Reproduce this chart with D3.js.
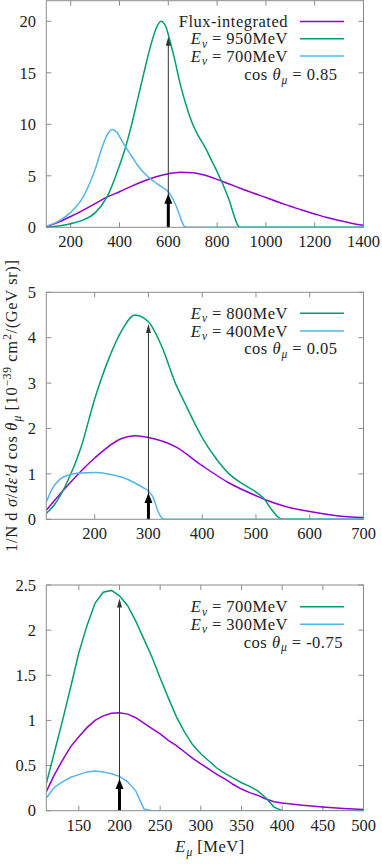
<!DOCTYPE html>
<html>
<head>
<meta charset="utf-8">
<script src="https://cdn.jsdelivr.net/npm/d3@7"></script>
<style>
  body { margin: 0; background: #fff; }
  text { font-family: "Liberation Serif", "DejaVu Serif", serif; fill: #222; }
</style>
</head>
<body>
<svg id="chart" width="382" height="864"></svg>
<script>
// panel 1: cos theta = 0.85
var topFlux = [[100,0.05],[150,0.5],[200,1.05],[250,1.65],[300,2.3],[350,2.95],[400,3.45],[450,4.0],[500,4.5],[550,4.9],[600,5.2],[650,5.35],[700,5.3],[750,5.05],[800,4.65],[850,4.2],[900,3.75],[950,3.3],[1000,2.9],[1050,2.45],[1100,2.05],[1150,1.65],[1200,1.3],[1250,0.95],[1300,0.65],[1350,0.4],[1400,0.2]];
var topHigh = [[100,0],[150,0.12],[200,0.35],[250,0.7],[300,1.4],[350,3.0],[400,6.0],[425,7.8],[450,10.0],[475,12.5],[500,15.0],[525,17.4],[550,19.3],[570,20.0],[590,19.5],[600,18.7],[625,16.4],[650,13.8],[675,11.7],[700,10.0],[725,8.8],[750,7.8],[775,6.6],[800,5.4],[825,4.1],[850,2.6],[870,1.1],[885,0.2],[895,0],[1400,0]];
var topLow = [[100,0.1],[150,0.6],[200,1.45],[250,2.9],[280,4.4],[300,5.6],[325,7.5],[350,9.0],[370,9.5],[390,9.2],[410,8.4],[425,7.8],[450,6.9],[475,6.0],[500,5.3],[525,4.75],[550,4.3],[575,3.9],[600,3.45],[620,2.7],[640,1.6],[655,0.6],[668,0.05],[680,0],[1400,0]];

// panel 2: cos theta = 0.05
var midFlux = [[110,0.2],[150,0.75],[200,1.35],[250,1.78],[275,1.84],[300,1.8],[350,1.6],[400,1.18],[450,0.8],[500,0.52],[520,0.42],[550,0.3],[600,0.17],[650,0.08],[700,0.04]];
var midHigh = [[110,0.13],[125,0.32],[150,0.85],[175,1.6],[200,2.65],[225,3.5],[250,4.15],[275,4.5],[300,4.35],[325,3.8],[350,3.0],[366,2.6],[400,1.8],[425,1.35],[450,1.0],[475,0.78],[500,0.6],[515,0.45],[530,0.2],[545,0.02],[560,0],[700,0]];
var midLow = [[110,0.38],[120,0.65],[135,0.88],[150,0.97],[175,1.02],[200,1.03],[225,1.0],[250,0.93],[275,0.8],[290,0.7],[300,0.62],[310,0.45],[317,0.2],[325,0.03],[330,0],[700,0]];

// panel 3: cos theta = -0.75
var botFlux = [[110,0.21],[120,0.4],[130,0.56],[140,0.71],[150,0.82],[160,0.92],[170,1.0],[180,1.05],[190,1.08],[200,1.085],[210,1.07],[220,1.03],[230,0.97],[240,0.91],[250,0.85],[260,0.78],[270,0.72],[280,0.65],[290,0.58],[300,0.52],[310,0.46],[320,0.4],[330,0.35],[340,0.29],[350,0.24],[360,0.2],[370,0.17],[380,0.13],[390,0.1],[400,0.085],[425,0.06],[450,0.04],[475,0.025],[500,0.012]];
var botHigh = [[110,0.3],[120,0.65],[130,1.0],[140,1.37],[150,1.75],[160,2.05],[170,2.3],[180,2.42],[190,2.44],[200,2.38],[210,2.27],[220,2.1],[230,1.9],[240,1.7],[250,1.47],[260,1.25],[270,1.04],[280,0.87],[290,0.73],[300,0.63],[310,0.55],[320,0.47],[330,0.41],[340,0.36],[350,0.31],[360,0.27],[370,0.22],[380,0.14],[390,0.04],[400,0],[500,0]];
var botLow = [[110,0.14],[120,0.26],[130,0.32],[140,0.37],[150,0.4],[160,0.43],[170,0.44],[180,0.43],[190,0.41],[200,0.38],[210,0.32],[220,0.22],[230,0.02],[240,0],[500,0]];

var xDomains = [[100,1400],[110,700],[110,500]];
var yDomains = [[0,22],[0,5],[0,2.5]];
var xTicks = [[200,400,600,800,1000,1200,1400],[200,300,400,500,600,700],[150,200,250,300,350,400,450,500]];
var yTicks = [[0,5,10,15,20],[0,1,2,3,4,5],[0,0.5,1,1.5,2,2.5]];
var nuEnergies = [["950","700"],["800","400"],["700","300"]];
var cosLabels = ["0.85","0.05","-0.75"];
var arrowE = [600,300,200];
var arrowHigh = [18.5,4.3,2.35];
var arrowLow = [3.25,0.58,0.35];

var colFlux = "#9400d3";
var colHigh = "#009e73";
var colLow = "#56b4e9";

var svg = d3.select("#chart");
var left = 46.3, right = 363.5;
var panelTops = [0.7, 292.3, 585];
var panelBottoms = [227.3, 519.3, 810.7];
var fs = "16.5px";

function addMath(sel, parts) {
  // parts: [text, style] where style is "", "i", "sub", "sup", "eq"
  var shift = 0;
  parts.forEach(function(p){
    var t = sel.append("tspan").text(p[0]);
    var target = 0;
    if (p[1] === "sub") { target = 3.5; t.attr("font-size", "11.5px").attr("font-style", "italic"); }
    if (p[1] === "sup") { target = -6.5; t.attr("font-size", "11.5px"); }
    if (p[1] === "i") { t.attr("font-style", "italic"); }
    if (p[1] === "eq") { t.attr("dx", 4.5); }
    if (target !== shift) { t.attr("dy", target - shift); shift = target; }
    if (p[1] === "sub" || p[1] === "sup") { t.attr("dx", 0.5); }
  });
}

function eqParts(name, sub, value) {
  return [[name,"i"],[sub,"sub"],["=","eq"],[value,"eq"]];
}

function drawPanel(i, series, curve) {
  var x = d3.scaleLinear().domain(xDomains[i]).range([left, right]);
  var y = d3.scaleLinear().domain(yDomains[i]).range([panelBottoms[i], panelTops[i]]);
  var g = svg.append("g");

  var clipId = "clip" + i;
  g.append("clipPath").attr("id", clipId).append("rect")
    .attr("x", left).attr("y", panelTops[i] - 2)
    .attr("width", right - left).attr("height", panelBottoms[i] - panelTops[i] + 2);

  // ticks, mirrored on all sides
  var frame = "#8c8c8c";
  xTicks[i].forEach(function(t){
    g.append("line").attr("x1", x(t)).attr("x2", x(t))
      .attr("y1", panelBottoms[i]).attr("y2", panelBottoms[i] - 5).attr("stroke", frame);
    g.append("line").attr("x1", x(t)).attr("x2", x(t))
      .attr("y1", panelTops[i]).attr("y2", panelTops[i] + 5).attr("stroke", frame);
    g.append("text").attr("x", x(t)).attr("y", panelBottoms[i] + 20)
      .attr("text-anchor", "middle").attr("font-size", fs).text(t);
  });
  yTicks[i].forEach(function(t){
    g.append("line").attr("x1", left).attr("x2", left + 5)
      .attr("y1", y(t)).attr("y2", y(t)).attr("stroke", frame);
    g.append("line").attr("x1", right).attr("x2", right - 5)
      .attr("y1", y(t)).attr("y2", y(t)).attr("stroke", frame);
    g.append("text").attr("x", 36).attr("y", y(t)).attr("dy", "0.35em")
      .attr("text-anchor", "end").attr("font-size", fs).text(t);
  });

  var line = d3.line().x(function(d){ return x(d[0]); }).y(function(d){ return y(d[1]); }).curve(curve);
  var plot = g.append("g").attr("clip-path", "url(#" + clipId + ")");
  series.forEach(function(s){
    plot.append("path").datum(s.data).attr("d", line)
      .attr("fill", "none").attr("stroke", s.color).attr("stroke-width", 1.5);
  });

  // arrows at the mean muon energy
  var ax = x(arrowE[i]);
  var yHi = y(arrowHigh[i]);
  var yLo = y(arrowLow[i]);
  var y0 = y(0);
  g.append("line").attr("x1", ax).attr("x2", ax).attr("y1", y0).attr("y2", yHi + 6)
    .attr("stroke", "#333").attr("stroke-width", 1);
  g.append("path").attr("d", "M" + ax + "," + yHi + " L" + (ax - 2.5) + "," + (yHi + 9) + " L" + (ax + 2.5) + "," + (yHi + 9) + "Z")
    .attr("fill", "#333");
  g.append("line").attr("x1", ax).attr("x2", ax).attr("y1", y0).attr("y2", yLo + 7)
    .attr("stroke", "#000").attr("stroke-width", 3);
  g.append("path").attr("d", "M" + ax + "," + yLo + " L" + (ax - 4) + "," + (yLo + 10) + " L" + (ax + 4) + "," + (yLo + 10) + "Z")
    .attr("fill", "#000");

  g.append("rect").attr("x", left).attr("y", panelTops[i])
    .attr("width", right - left).attr("height", panelBottoms[i] - panelTops[i])
    .attr("fill", "none").attr("stroke", frame).attr("stroke-width", 1);

  // legend
  var rowY = i === 0 ? [21.5, 38.8, 56] : (i === 1 ? [313.3, 331, 348.7] : [606.7, 624.3, 642]);
  var legendItems = [];
  if (i === 0) legendItems.push({ label: "Flux-integrated", color: colFlux });
  legendItems.push({ label: nuEnergies[i][0], color: colHigh });
  legendItems.push({ label: nuEnergies[i][1], color: colLow });
  legendItems.forEach(function(item, k){
    var t = g.append("text").attr("x", 288).attr("y", rowY[k] + 5.5)
      .attr("text-anchor", "end").attr("font-size", fs).attr("letter-spacing", "0.5px");
    if (item.label === "Flux-integrated") {
      t.text(item.label);
    } else {
      addMath(t, eqParts("E", "ν", item.label + "MeV"));
    }
    g.append("line").attr("x1", 300).attr("x2", 344).attr("y1", rowY[k]).attr("y2", rowY[k])
      .attr("stroke", item.color).attr("stroke-width", 1.5);
  });
  var cy = i === 0 ? 74.5 : rowY[2];
  var ct = g.append("text").attr("x", i === 2 ? 343 : 337.5).attr("y", cy + 5.5)
    .attr("text-anchor", "end").attr("font-size", fs).attr("letter-spacing", "0.5px");
  addMath(ct, [["cos ",""]].concat(eqParts("θ", "μ", cosLabels[i])));
}

var smooth = d3.curveMonotoneX;
drawPanel(0, [{data: topFlux, color: colFlux},{data: topHigh, color: colHigh},{data: topLow, color: colLow}], smooth);
drawPanel(1, [{data: midFlux, color: colFlux},{data: midHigh, color: colHigh},{data: midLow, color: colLow}], smooth);
drawPanel(2, [{data: botFlux, color: colFlux},{data: botHigh, color: colHigh},{data: botLow, color: colLow}], d3.curveLinear);

// axis titles
var yl = svg.append("text").attr("transform", "translate(17,405.7) rotate(-90)")
  .attr("text-anchor", "middle").attr("font-size", fs).attr("letter-spacing", "0.6px");
addMath(yl, [["1/N d ",""],["σ","i"],["/",""],["dε′d","i"],[" cos ",""],["θ","i"],["μ","sub"],[" [10",""],["−39","sup"],[" cm",""],["2","sup"],["/(GeV sr)]",""]]);

var xl = svg.append("text").attr("x", 210).attr("y", 852)
  .attr("text-anchor", "middle").attr("font-size", fs).attr("letter-spacing", "0.5px");
addMath(xl, [["E","i"],["μ","sub"],[" [MeV]",""]]);
</script>
</body>
</html>
